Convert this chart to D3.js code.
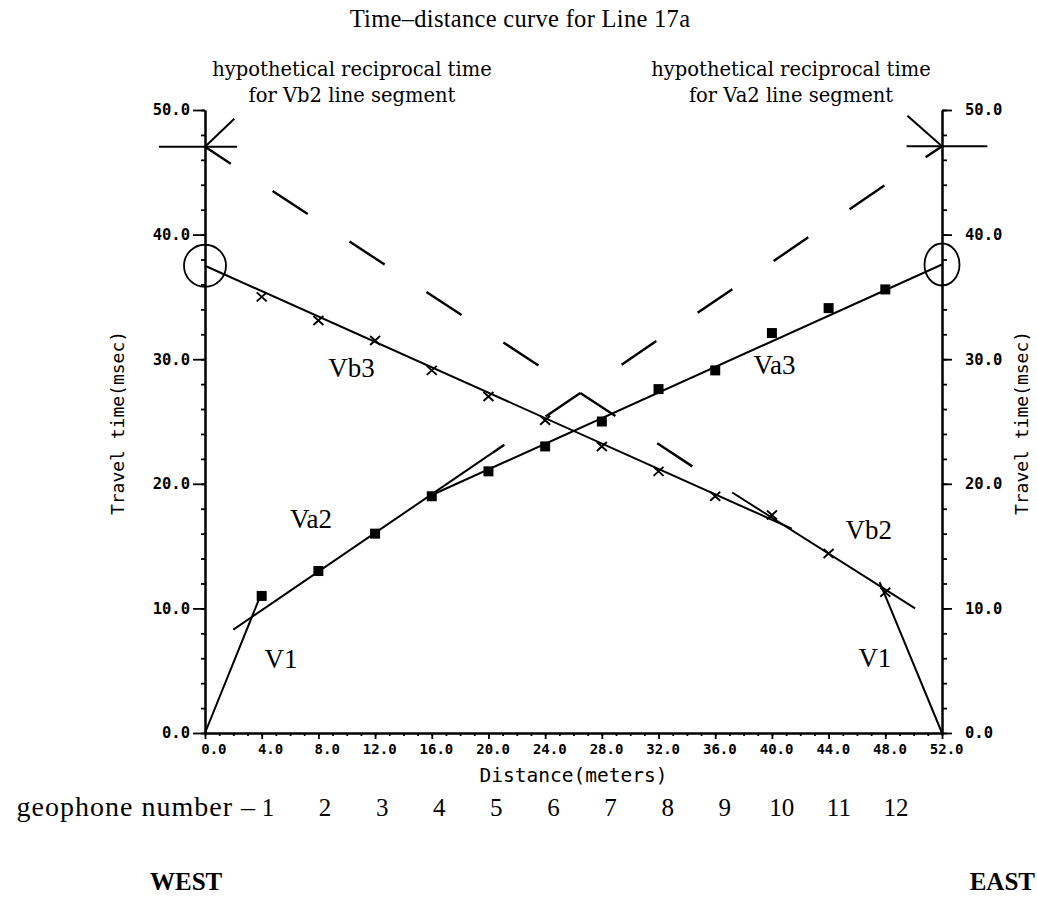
<!DOCTYPE html>
<html>
<head>
<meta charset="utf-8">
<script src="https://cdn.jsdelivr.net/npm/d3@7"></script>
<style>
  body { margin: 0; background: white; }
</style>
</head>
<body>
<div id="canvas"></div>
<script>
"use strict"

/* Canvas size */
let svgWidth = 1037;
let svgHeight = 903;

/* Plot area (pixel edges of the two y axes and of the x axis) */
let plotLeft = 205
let plotRight = 942
let plotTop = 110
let plotBottom = 733

// geophone positions (meters) and travel times (msec)
let distance = [4, 8, 12, 16, 20, 24, 28, 32, 36, 40, 44, 48];
let forwardTime = [11.0, 13.0, 16.0, 19.0, 21.0, 23.0, 25.0, 27.6, 29.1, 32.1, 34.1, 35.6];
let reverseTime = [35.0, 33.1, 31.5, 29.1, 27.0, 25.1, 23.0, 21.0, 19.0, 17.5, 14.4, 11.3];

// fitted line segments, [distance, time] end points
let v1Forward = [[0, 0], [3.8, 10.7]];
let va2Fit = [[2.0, 8.3], [20.3, 22.5]];
let va3Fit = [[16.0, 19.1], [52.0, 37.6]];
let vb3Fit = [[0, 37.5], [41.4, 16.4]];
let vb2Fit = [[37.2, 19.3], [50.1, 10.0]];
let v1Reverse = [[47.6, 12.1], [52.0, 0]];

// hypothetical reciprocal time extensions (dashed)
let va2Reciprocal = [[52.0, 47.1], [20.3, 22.5]];
let vb2Reciprocal = [[0, 47.05], [37.2, 19.3]];

// reciprocal time marks on the axes
let leftMark = [[[-3.25, 47.05], [2.26, 47.05]], [[0, 47.05], [2.07, 49.3]]];
let rightMark = [[[49.5, 47.1], [55.2, 47.1]], [[49.56, 49.54], [52.0, 47.1]]];

// tick values
let xMajorTicks = [0, 4, 8, 12, 16, 20, 24, 28, 32, 36, 40, 44, 48, 52];
let yMajorTicks = [0, 10, 20, 30, 40, 50];
let geophoneNumbers = [1, 2, 3, 4, 5, 6, 7, 8, 9, 10, 11, 12];

let svg = d3.select("#canvas")
    .append("svg")
    .attr("width", svgWidth)
    .attr("height", svgHeight)
    .style("background", "white");

let xScale = d3.scaleLinear()
    .domain([0, 52])
    .range([plotLeft, plotRight]);

let yScale = d3.scaleLinear()
    .domain([0, 50])
    .range([plotBottom, plotTop]);

let plotterFont = "'DejaVu Sans Mono', monospace";
let serifFont = "'Liberation Serif', 'Times New Roman', serif";

/* ---------- axes ---------- */
function styleAxis(g) {
    g.select(".domain").attr("stroke", "black").attr("stroke-width", 2);
    g.selectAll(".tick line").attr("stroke", "black").attr("stroke-width", 1.8);
    g.selectAll("text")
        .attr("fill", "black")
        .style("font-family", plotterFont)
        .style("font-weight", "bold");
}

// x axis: minor ticks every meter, labelled every 4
svg.append("g")
    .attr("transform", "translate(0," + plotBottom + ")")
    .call(d3.axisBottom(xScale).tickValues(d3.range(0, 53, 1)).tickSize(3).tickSizeOuter(0).tickFormat(""))
    .call(styleAxis);

let xAxis = svg.append("g")
    .attr("transform", "translate(0," + plotBottom + ")")
    .call(d3.axisBottom(xScale).tickValues(xMajorTicks).tickSize(6).tickSizeOuter(0).tickFormat(d3.format(".1f")))
    .call(styleAxis);
xAxis.selectAll("text")
    .attr("text-anchor", "end")
    .attr("x", 21)
    .attr("y", 11)
    .style("font-size", "14px");

// left y axis
svg.append("g")
    .attr("transform", "translate(" + plotLeft + ",0)")
    .call(d3.axisLeft(yScale).tickValues(d3.range(0, 51, 2)).tickSize(4).tickSizeOuter(0).tickFormat(""))
    .call(styleAxis);
let yAxisLeft = svg.append("g")
    .attr("transform", "translate(" + plotLeft + ",0)")
    .call(d3.axisLeft(yScale).tickValues(yMajorTicks).tickSize(12).tickSizeOuter(0).tickPadding(3).tickFormat(d3.format(".1f")))
    .call(styleAxis);
yAxisLeft.selectAll("text").style("font-size", "15.5px");

// right y axis
svg.append("g")
    .attr("transform", "translate(" + plotRight + ",0)")
    .call(d3.axisRight(yScale).tickValues(d3.range(0, 51, 2)).tickSize(5).tickSizeOuter(0).tickFormat(""))
    .call(styleAxis);
let yAxisRight = svg.append("g")
    .attr("transform", "translate(" + plotRight + ",0)")
    .call(d3.axisRight(yScale).tickValues(yMajorTicks).tickSize(10).tickSizeOuter(0).tickPadding(13).tickFormat(d3.format(".1f")))
    .call(styleAxis);
yAxisRight.selectAll("text").style("font-size", "15.5px");

/* axis titles */
svg.append("text")
    .attr("x", (plotLeft + plotRight) / 2)
    .attr("y", 782)
    .attr("fill", "black")
    .style("text-anchor", "middle")
    .style("font-family", plotterFont)
    .style("font-size", "19.5px")
    .text("Distance(meters)");

[124, 1028].forEach(function (xPos) {
    svg.append("text")
        .attr("transform", "translate(" + xPos + ",423) rotate(-90)")
        .attr("fill", "black")
        .style("text-anchor", "middle")
        .style("font-family", plotterFont)
        .style("font-size", "18px")
        .text("Travel time(msec)");
});

/* ---------- fitted lines ---------- */
let line = d3.line()
    .x(function (d) { return xScale(d[0]); })
    .y(function (d) { return yScale(d[1]); });

[v1Forward, va2Fit, va3Fit, vb3Fit, vb2Fit, v1Reverse].forEach(function (seg) {
    svg.append("path")
        .attr("d", line(seg))
        .attr("fill", "none")
        .attr("stroke", "black")
        .attr("stroke-width", 2);
});

/* dashed reciprocal extensions: dashes are phased so both start where the lines cross */
let dashOn = 42, dashOff = 50;
let slopeA = (va2Reciprocal[1][1] - va2Reciprocal[0][1]) / (va2Reciprocal[1][0] - va2Reciprocal[0][0]);
let slopeB = (vb2Reciprocal[1][1] - vb2Reciprocal[0][1]) / (vb2Reciprocal[1][0] - vb2Reciprocal[0][0]);
let crossX = (vb2Reciprocal[0][1] - vb2Reciprocal[0][0] * slopeB - va2Reciprocal[0][1] + va2Reciprocal[0][0] * slopeA)
    / (slopeA - slopeB);

[vb2Reciprocal, va2Reciprocal].forEach(function (seg) {
    let p = svg.append("path")
        .attr("d", line(seg))
        .attr("fill", "none")
        .attr("stroke", "black")
        .attr("stroke-width", 2.4);
    let total = p.node().getTotalLength();
    let toCross = total * (crossX - seg[0][0]) / (seg[1][0] - seg[0][0]);
    let period = dashOn + dashOff;
    p.attr("stroke-dasharray", dashOn + " " + dashOff)
        .attr("stroke-dashoffset", period - (toCross % period));
});

/* reciprocal time marks */
leftMark.concat(rightMark).forEach(function (seg) {
    svg.append("path")
        .attr("d", line(seg))
        .attr("fill", "none")
        .attr("stroke", "black")
        .attr("stroke-width", 2);
});

/* circles at the reciprocal times */
svg.append("ellipse")
    .attr("cx", xScale(vb3Fit[0][0]))
    .attr("cy", yScale(vb3Fit[0][1]))
    .attr("rx", 21)
    .attr("ry", 21)
    .attr("fill", "none")
    .attr("stroke", "black")
    .attr("stroke-width", 1.8);
svg.append("ellipse")
    .attr("cx", xScale(va3Fit[1][0]))
    .attr("cy", yScale(va3Fit[1][1]))
    .attr("rx", 17.5)
    .attr("ry", 21)
    .attr("fill", "none")
    .attr("stroke", "black")
    .attr("stroke-width", 1.8);

/* ---------- data points ---------- */
svg.selectAll("rect.fwd")
    .data(distance)
    .join("rect")
    .attr("class", "fwd")
    .attr("x", function (d) { return xScale(d) - 5; })
    .attr("y", function (d, i) { return yScale(forwardTime[i]) - 5; })
    .attr("width", 10)
    .attr("height", 10)
    .attr("fill", "black");

svg.selectAll("path.rev")
    .data(distance)
    .join("path")
    .attr("class", "rev")
    .attr("d", "M-5,-4.5L5,4.5M-5,4.5L5,-4.5")
    .attr("transform", function (d, i) {
        return "translate(" + xScale(d) + "," + yScale(reverseTime[i]) + ")";
    })
    .attr("fill", "none")
    .attr("stroke", "black")
    .attr("stroke-width", 1.9);

/* ---------- segment labels ---------- */
let segLabels = [
    { text: "Vb3", x: 8.7, y: 28.6 },
    { text: "Va3", x: 38.7, y: 28.8 },
    { text: "Va2", x: 6.0, y: 16.45 },
    { text: "Vb2", x: 45.2, y: 15.6 },
    { text: "V1", x: 4.2, y: 5.2 },
    { text: "V1", x: 46.1, y: 5.3 }
];
segLabels.forEach(function (l) {
    svg.append("text")
        .attr("x", xScale(l.x))
        .attr("y", yScale(l.y))
        .style("font-family", serifFont)
        .style("font-size", "27px")
        .text(l.text);
});

/* ---------- titles and notes ---------- */
svg.append("text")
    .attr("x", 520)
    .attr("y", 27)
    .style("text-anchor", "middle")
    .style("font-family", serifFont)
    .style("font-size", "24.5px")
    .style("letter-spacing", "0.3px")
    .text("Time\u2013distance curve for Line 17a");

let noteFont = "'DejaVu Serif', serif";
[[352, "Vb2"], [791, "Va2"]].forEach(function (n) {
    svg.append("text")
        .attr("x", n[0])
        .attr("y", 76)
        .style("text-anchor", "middle")
        .style("font-family", noteFont)
        .style("font-size", "19.5px")
        .text("hypothetical reciprocal time");
    svg.append("text")
        .attr("x", n[0])
        .attr("y", 102)
        .style("text-anchor", "middle")
        .style("font-family", noteFont)
        .style("font-size", "19.5px")
        .text("for " + n[1] + " line segment");
});

/* geophone numbering under the axis */
let geoScale = d3.scaleLinear().domain([1, 12]).range([268, 896]);
svg.append("text")
    .attr("x", 256)
    .attr("y", 816)
    .style("text-anchor", "end")
    .style("font-family", serifFont)
    .style("font-size", "28px")
    .style("letter-spacing", "1px")
    .text("geophone number \u2013");
svg.selectAll("text.geo")
    .data(geophoneNumbers)
    .join("text")
    .attr("class", "geo")
    .attr("x", function (d) { return geoScale(d); })
    .attr("y", 816)
    .style("text-anchor", "middle")
    .style("font-family", serifFont)
    .style("font-size", "25px")
    .text(function (d) { return d; });

svg.append("text")
    .attr("x", 150)
    .attr("y", 890)
    .style("font-family", serifFont)
    .style("font-weight", "bold")
    .style("font-size", "25px")
    .text("WEST");
svg.append("text")
    .attr("x", 1035)
    .attr("y", 890)
    .style("text-anchor", "end")
    .style("font-family", serifFont)
    .style("font-weight", "bold")
    .style("font-size", "25px")
    .text("EAST");
</script>
</body>
</html>
